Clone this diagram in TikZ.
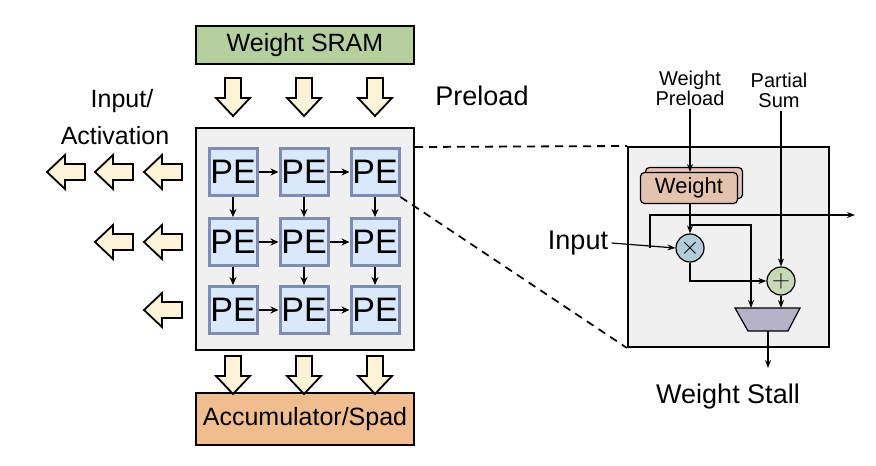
\documentclass[tikz,border=0pt]{standalone}
\usepackage{fontspec}
\setmainfont{Liberation Sans}
\usetikzlibrary{arrows.meta}
\definecolor{peb}{HTML}{DAE8FC}\definecolor{ped}{HTML}{7D8CB0}
\definecolor{blk}{HTML}{FCF3D8}\definecolor{sram}{HTML}{B6CF9F}
\definecolor{acc}{HTML}{F0BE8E}\definecolor{wt}{HTML}{E3C2B0}
\definecolor{mulc}{HTML}{B0CDD8}\definecolor{addc}{HTML}{C8D9B8}
\definecolor{muxc}{HTML}{B6B2C8}\definecolor{bgg}{HTML}{F0F0F0}
\newcommand\fs[1]{\fontsize{#1}{#1}\selectfont}
\tikzset{
 pe/.style={draw=ped,line width=3pt,fill=peb,minimum width=48pt,minimum height=47pt,font=\fs{34},inner sep=0pt},
 ar/.style={-{Stealth[length=8pt,width=7pt]},line width=1.8pt},
 thin/.style={-{Stealth[length=8pt,width=6pt]},line width=1.2pt},
 bigarrow/.pic={\draw[line width=1.8pt,fill=blk] (-8,-20)--(-8,0)--(-17,0)--(0,18)--(17,0)--(8,0)--(8,-20)--cycle;},
}
\begin{document}
\begin{tikzpicture}[x=1pt,y=-1pt]
\useasboundingbox (0,0) rectangle (876,466);
\node[draw,line width=2pt,fill=bgg,minimum width=218pt,minimum height=222pt,inner sep=0pt] (arr) at (305,239) {};
\node[draw,line width=1.5pt,fill=sram,minimum width=218pt,minimum height=38pt,font=\fs{25}] (sram) at (305,45) {Weight SRAM};
\node[draw,line width=1.5pt,fill=acc,minimum width=218pt,minimum height=52pt,font=\fs{25}] (acc) at (305,419) {Accumulator/Spad};
\foreach \c/\x in {1/233,2/304,3/375}{
 \foreach \r/\y in {1/172,2/242,3/310}{
  \node[pe] (p\r\c) at (\x,\y) {PE};
 }
 \pic at (\x,98) {bigarrow};
 \pic at (\x,376) {bigarrow};
}
\foreach \r in {1,2,3}{
 \draw[ar] (p\r1)--(p\r2); \draw[ar] (p\r2)--(p\r3);}
\foreach \c in {1,2,3}{
 \draw[ar] (p1\c)--(p2\c); \draw[ar] (p2\c)--(p3\c);}
\foreach \x/\y in {65/172,113/172,162/172,113/242,162/242,162/310}{
 \pic[rotate=-90] at (\x,\y) {bigarrow};}
\node[font=\fs{25}] (inl) at (122,101) {Input/};
\node[font=\fs{25}] (act) at (115,136) {Activation};
\node[font=\fs{27}] (pre) at (482,96) {Preload};
\node[draw,line width=2pt,fill=bgg,minimum width=201pt,minimum height=200pt,inner sep=0pt] (pd) at (728.5,247) {};
\draw[dashed,dash pattern=on 8pt off 6pt,line width=1.8pt] (arr.north east|-p13.north) -- (pd.north west);
\draw[dashed,dash pattern=on 8pt off 6pt,line width=1.8pt] (p13.south east) -- (pd.south west);
\node[draw,line width=1.2pt,rounded corners=4pt,fill=wt,minimum width=97pt,minimum height=31pt] (wb) at (694,183) {};
\node[draw,line width=1.2pt,rounded corners=4pt,fill=wt,minimum width=97pt,minimum height=31pt,font=\fs{22}] (w) at (689,188) {Weight};
\node[draw,line width=1.2pt,circle,fill=mulc,minimum size=28pt,inner sep=0pt,font=\fs{26}] (mul) at (690,248) {$\times$};
\node[draw,line width=1.2pt,circle,fill=addc,minimum size=28pt,inner sep=0pt,font=\fs{26}] (add) at (781,281) {$+$};
\draw[line width=1.2pt,fill=muxc] (735,308)--(800,308)--(788,331)--(748,331)--cycle;
\coordinate (mux) at (768,331);
\node[font=\fs{20},align=center] (wp) at (690,88) {Weight\\Preload};
\node[font=\fs{20},align=center] (ps) at (779,90) {Partial\\Sum};
\node[font=\fs{27}] (in) at (578,243) {Input};
\node[font=\fs{27}] (ws) at (728,397) {Weight Stall};
\draw[thin] (wp.south) -- (w.north-|wp.south);
\draw[thin] (ps.south-|add.north) -- (add.north);
\draw[thin] (in.east) -- (mul.west);
\draw[thin] (650,248) -- (650,215) -- (855,215) coordinate (out);
\draw[thin] (w.south-|mul.north) -- (mul.north);
\draw[thin] (690,225) -- (751,225) -- (751,308);
\draw[thin] (mul.south) |- (add.west);
\draw[thin] (add.south) -- (781,308);
\draw[thin] (mux) -- (768,368) coordinate (o2);
\end{tikzpicture}
\end{document}
